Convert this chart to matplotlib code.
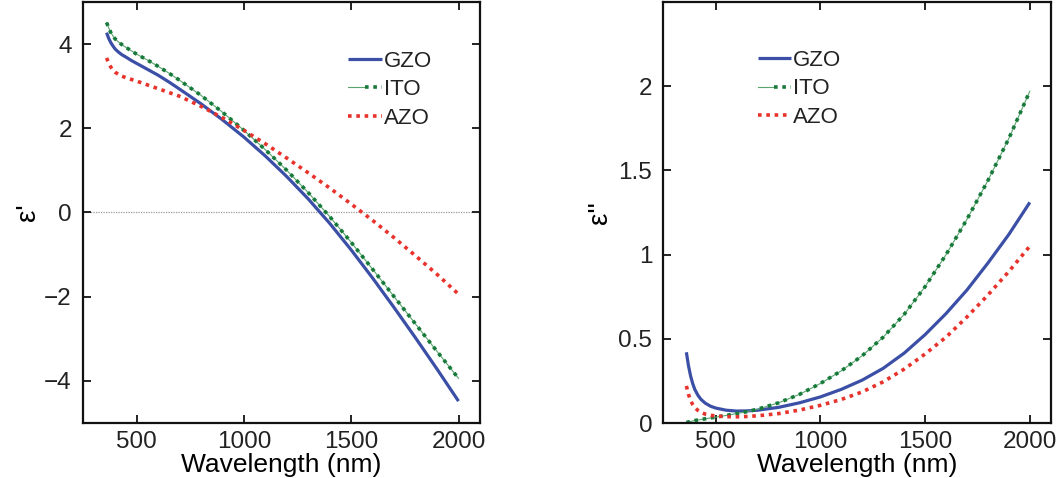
import matplotlib
matplotlib.use("Agg")
import matplotlib.pyplot as plt
from matplotlib.legend_handler import HandlerTuple

plt.rcParams['font.family'] = ['Liberation Sans', 'DejaVu Sans']
plt.rcParams['text.color'] = '#222222'
plt.rcParams['xtick.color'] = '#222222'
plt.rcParams['ytick.color'] = '#222222'

wavelength = [360, 370, 380, 390, 400, 415, 430, 450, 475, 500, 550, 600, 650, 700,
              800, 900, 1000, 1100, 1200, 1300, 1400, 1500, 1600, 1700, 1800, 1900, 2000]

# real part of permittivity
eps_re_gzo = [4.27, 4.13, 4.03, 3.95, 3.88, 3.81, 3.75, 3.69, 3.61, 3.54, 3.40, 3.26, 3.10, 2.93,
              2.58, 2.20, 1.79, 1.34, 0.85, 0.32, -0.26, -0.89, -1.56, -2.26, -2.98, -3.72, -4.48]
eps_re_ito = [4.51, 4.38, 4.27, 4.19, 4.12, 4.05, 3.99, 3.92, 3.84, 3.76, 3.62, 3.47, 3.31, 3.14,
              2.78, 2.38, 1.95, 1.49, 1.00, 0.47, -0.10, -0.71, -1.35, -2.00, -2.65, -3.30, -3.94]
eps_re_azo = [3.67, 3.54, 3.45, 3.38, 3.33, 3.28, 3.24, 3.20, 3.16, 3.12, 3.03, 2.94, 2.85, 2.76,
              2.52, 2.25, 1.95, 1.63, 1.29, 0.94, 0.58, 0.20, -0.19, -0.60, -1.03, -1.47, -1.94]

# imaginary part of permittivity
eps_im_gzo = [0.42, 0.34, 0.28, 0.235, 0.20, 0.165, 0.14, 0.118, 0.10, 0.089, 0.076, 0.071, 0.072, 0.076,
              0.093, 0.12, 0.155, 0.20, 0.255, 0.325, 0.415, 0.525, 0.65, 0.79, 0.95, 1.12, 1.31]
eps_im_ito = [0.003, 0.006, 0.009, 0.012, 0.015, 0.018, 0.021, 0.025, 0.03, 0.035, 0.045, 0.056, 0.068, 0.082,
              0.12, 0.17, 0.235, 0.31, 0.40, 0.51, 0.645, 0.81, 1.00, 1.21, 1.44, 1.69, 1.97]
eps_im_azo = [0.22, 0.17, 0.135, 0.11, 0.092, 0.075, 0.063, 0.053, 0.046, 0.042, 0.038, 0.037, 0.039, 0.043,
              0.056, 0.077, 0.105, 0.14, 0.185, 0.245, 0.32, 0.41, 0.51, 0.63, 0.76, 0.90, 1.05]

labels = ['GZO', 'ITO', 'AZO']

blue = '#3b4fa6'
green = '#17793a'
red = '#e8322c'


def draw(ax, gzo, ito, azo):
    l1, = ax.plot(wavelength, gzo, color=blue, lw=2.3, solid_capstyle='butt')
    base, = ax.plot(wavelength, ito, color='#5aa56e', lw=0.8)
    dots, = ax.plot(wavelength, ito, color=green, lw=2.6, dashes=(1, 1.3))
    l3, = ax.plot(wavelength, azo, color=red, lw=2.6, dashes=(1, 1.3))
    return [l1, (base, dots), l3]


def style(ax):
    ax.set_xlim(250, 2100)
    ax.set_xticks([500, 1000, 1500, 2000])
    ax.tick_params(direction='in', length=6, width=1.4, top=True, right=True,
                   labelsize=17.5)
    ax.tick_params(axis='y', pad=8)
    ax.tick_params(axis='x', pad=6)
    for s in ax.spines.values():
        s.set_linewidth(1.6)
        s.set_color('#111111')
    ax.set_xlabel('Wavelength (nm)', fontsize=19, labelpad=0)


def add_legend(ax, handles, anchor):
    ax.legend(handles, labels, handler_map={tuple: HandlerTuple(ndivide=None, pad=0)},
              loc='upper left', bbox_to_anchor=anchor, frameon=False, fontsize=16,
              handlelength=1.5, handletextpad=0.1, labelspacing=0.33, borderpad=0)


fig = plt.figure(figsize=(10.6, 4.78), dpi=100)

ax1 = fig.add_axes([0.0783, 0.115, 0.3745, 0.881])
h1 = draw(ax1, eps_re_gzo, eps_re_ito, eps_re_azo)
ax1.axhline(0, color='#9a9a9a', lw=0.9, ls=(0, (1, 1)), zorder=0)
ax1.set_ylim(-5, 5)
ax1.set_yticks([-4, -2, 0, 2, 4])
style(ax1)
ax1.set_ylabel("ε'", fontsize=20)
ax1.yaxis.set_label_coords(-0.107, 0.5)
add_legend(ax1, h1, (0.64, 0.91))

ax2 = fig.add_axes([0.6258, 0.115, 0.3655, 0.881])
h2 = draw(ax2, eps_im_gzo, eps_im_ito, eps_im_azo)
ax2.set_ylim(0, 2.5)
ax2.set_yticks([0, 0.5, 1, 1.5, 2])
ax2.set_yticklabels(['0', '0.5', '1', '1.5', '2'])
style(ax2)
ax2.set_ylabel("ε''", fontsize=20)
ax2.yaxis.set_label_coords(-0.13, 0.5)
add_legend(ax2, h2, (0.215, 0.912))

fig.savefig('out.png', dpi=100)
